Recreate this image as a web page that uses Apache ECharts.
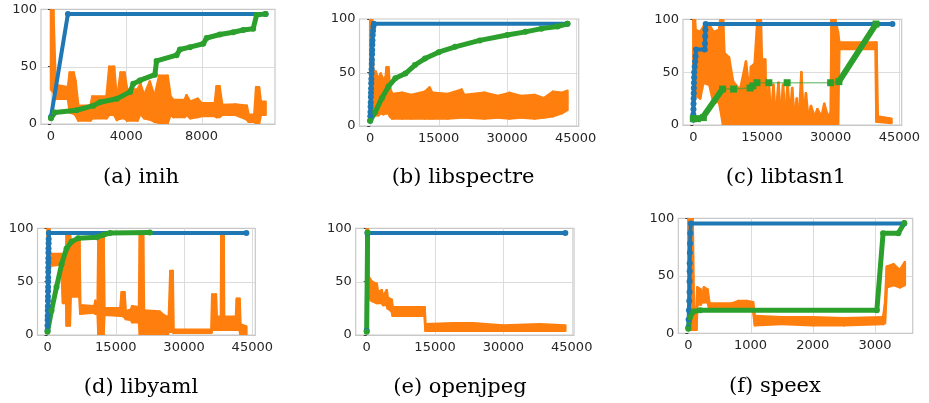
<!DOCTYPE html>
<html>
<head>
<meta charset="utf-8">
<script src="https://cdn.jsdelivr.net/npm/echarts@6/dist/echarts.min.js"></script>
<style>
  body { margin: 0; background: #fff; }
  #chart { width: 929px; height: 403px; }
</style>
</head>
<body>
<div id="chart"></div>
<script>
// ---- data (x = executions, y = percent) ----
// orange rows are [x, low, high] of the noisy band

const inihTicks = [0, 4000, 8000];
const inihBlue = [[0, 6], [900, 96], [11400, 96]];
const inihGreen = [[0, 5], [200, 10], [1360, 12], [2250, 16], [2600, 19], [3500, 22], [4200, 28], [4370, 35],
  [4720, 38], [5520, 43], [5610, 55], [6670, 60], [6850, 65], [7380, 67], [8090, 70], [8270, 75],
  [8970, 78], [9680, 80], [10210, 82], [10740, 83], [10920, 95], [11400, 96]];
const inihOrange = [[0, 30, 100], [120, 28, 100], [250, 22, 34], [900, 22, 32], [1000, 10, 45], [1200, 9, 45],
  [1300, 8, 38], [1450, 3, 16], [2100, 3, 16], [2200, 5, 24], [2950, 5, 24], [3100, 8, 50], [3350, 8, 50],
  [3500, 3.5, 21], [3700, 5, 45], [3900, 5, 45], [4050, 3, 30], [4600, 3, 30], [4750, 9, 35], [4950, 5, 25],
  [5250, 4, 37], [5500, 2, 24], [5750, 1, 42], [6200, 1, 42], [6350, 8, 24], [6500, 6, 21], [7100, 6, 21],
  [7200, 8, 25], [7400, 5, 19.5], [7800, 6, 22], [8000, 7, 18], [8700, 7, 18], [8800, 6, 33], [8950, 6, 33],
  [9100, 8, 16.5], [9800, 8, 17], [10400, 4, 16], [10500, 2, 8], [10800, 2, 8], [10900, 0.5, 32],
  [11050, 0.5, 32], [11150, 8, 19.5], [11400, 8, 19.5]];

const spectreTicks = [0, 15000, 30000, 45000];
const spectreBlue = [[0, 5], [30, 9], [60, 13], [90, 18], [120, 22], [150, 27], [180, 31], [200, 35], [230, 40],
  [260, 44], [290, 49], [320, 53], [350, 58], [380, 62], [410, 67], [440, 71], [470, 76], [500, 80],
  [560, 85], [620, 89], [700, 93], [800, 95.5], [43200, 95.5]];
const spectreGreen = [[0, 5], [1100, 13], [2550, 26], [4000, 37], [5500, 44.6], [7700, 49], [9800, 57],
  [12000, 63], [15000, 69], [18600, 74], [24000, 80], [30000, 85], [34000, 88], [37500, 91], [41000, 93],
  [43200, 95.5]];
const spectreOrange = [[0, 5, 100], [400, 8, 100], [700, 10, 47], [1200, 10, 51], [1800, 10, 44], [2300, 12, 49],
  [2900, 11, 43], [3400, 12, 46], [3600, 12, 55], [4000, 12, 55], [4300, 9, 36], [4800, 7, 30], [7000, 7, 31],
  [9000, 7, 29], [12000, 7, 32], [13000, 7, 36], [13600, 7, 31], [17000, 7, 30], [20000, 8, 34],
  [20600, 8, 29], [25000, 7, 31], [28000, 8, 28], [30500, 7, 31], [33000, 8, 28], [36000, 7, 29],
  [38000, 8, 26], [40000, 9, 32], [42000, 12, 31], [43200, 15, 33]];

const tasnTicks = [0, 15000, 30000, 45000];
const tasnBlue = [[0, 5], [0, 10], [30, 15], [50, 20], [80, 25], [100, 30], [120, 35], [150, 40], [180, 45],
  [200, 50], [300, 55], [400, 60], [500, 65], [600, 71.5], [2500, 71.5], [2550, 77], [2600, 84],
  [2650, 90], [2700, 95.5], [43500, 95.5]];
const tasnGreenDense = [[2200, 8], [6400, 34], null, [31800, 41], [39900, 95.5]];
const tasnGreenSparse = [[0, 6], [900, 6], [2200, 7], [6400, 34], [8800, 34], [12400, 35], [13000, 37],
  [13900, 40], [16500, 40], [20500, 40], [30000, 40], [31800, 41], [39900, 95.5]];
const tasnOrange = [[0, 55, 100], [350, 55, 100], [500, 28, 90], [1500, 25, 88], [2200, 40, 93], [3500, 38, 95],
  [4400, 21, 88], [5600, 22, 90], [5900, 15, 100], [6500, 0, 100], [6800, 0, 68], [7800, 0, 64],
  [8700, 0, 41], [10200, 0, 33], [11500, 0, 60], [12300, 0, 30], [12600, 0, 55], [13400, 0, 58],
  [14000, 0, 100], [14700, 0, 100], [15000, 0, 62], [15700, 0, 62], [16000, 0, 8], [16500, 0, 40],
  [17000, 0, 8], [17500, 0, 38], [18000, 0, 8], [18600, 0, 40], [19100, 0, 8], [19600, 0, 38],
  [20100, 0, 8], [20600, 0, 40], [21100, 0, 8], [21600, 0, 35], [22100, 0, 8], [22600, 0, 25],
  [23100, 0, 8], [23600, 0, 50], [24100, 0, 8], [24600, 0, 30], [25100, 0, 8], [25700, 0, 18],
  [26500, 0, 8], [27100, 0, 15], [28000, 0, 8], [28600, 0, 20], [29400, 0, 8], [30000, 0, 12],
  [30200, 0, 100], [31000, 0, 100], [31600, 0, 88], [31900, 72, 78], [39800, 72, 78], [40000, 3, 78],
  [40300, 3, 8], [43300, 2, 6]];

const yamlTicks = [0, 15000, 30000, 45000];
const yamlBlue = [[0, 4], [0, 9], [20, 14], [40, 18], [60, 23], [80, 27], [100, 32], [110, 36], [120, 41],
  [130, 45], [140, 50], [150, 54], [160, 59], [170, 63], [180, 68], [190, 72], [200, 77], [220, 81],
  [240, 86], [260, 90], [300, 95.5], [43700, 95.5]];
const yamlGreen = [[0, 3], [880, 23], [1980, 45], [3080, 66], [4180, 81], [5280, 87.5], [6730, 90.6],
  [10800, 91.5], [12200, 93.7], [13700, 95.5], [22500, 96]];
const yamlOrange = [[0, 60, 100], [400, 62, 100], [550, 65, 76], [3000, 66, 76], [3400, 30, 76], [4100, 30, 60],
  [4200, 9, 95], [4900, 9, 95], [5100, 36, 89], [7000, 36, 89], [7200, 20, 28], [10300, 21, 27],
  [10500, 20, 32], [11000, 20, 27], [11200, 0, 96], [12300, 0, 96], [12500, 19, 25], [16000, 18, 25],
  [16300, 18, 40], [16900, 17, 40], [17200, 15, 22], [18400, 14, 24], [18600, 12, 27], [20100, 12, 26],
  [20300, 0, 95], [21000, 0, 95], [21200, 0, 23], [24600, 0, 22], [25700, 0, 18], [26400, 0, 17],
  [26600, 3, 10], [27000, 3, 60], [27500, 3, 60], [27700, 2, 5], [36000, 2, 5], [36200, 5, 38],
  [37000, 5, 38], [37200, 5, 17], [38100, 5, 17], [38200, 5, 96], [38700, 5, 96], [38800, 5, 17],
  [41400, 5, 17], [41600, 5, 34], [42200, 5, 34], [42400, 0, 10], [43700, 0, 8]];

const jpegTicks = [0, 15000, 30000, 45000];
const jpegBlue = [[0, 4], [150, 95.5], [43600, 95.5]];
const jpegGreen = [[0, 3], [200, 96]];
const jpegOrange = [[0, 30, 100], [250, 35, 100], [400, 35, 55], [1100, 32, 50], [2200, 30, 48], [2500, 30, 40],
  [3300, 30, 42], [3600, 28, 36], [4400, 28, 42], [4600, 25, 35], [5500, 22, 33], [5700, 18, 26],
  [12700, 18, 26], [12900, 4, 10], [19000, 4, 11], [23400, 4, 11], [30000, 4, 9], [38000, 4, 10],
  [43600, 4, 9]];

const speexTicks = [0, 1000, 2000, 3000];
const speexBlue = [[0, 5], [5, 12], [10, 20], [15, 28], [20, 36], [20, 45], [22, 54], [22, 61], [25, 70],
  [28, 78], [32, 87], [40, 95.5], [3470, 95.5]];
const speexGreen = [[0, 4], [27, 14], [80, 19], [190, 20], [3030, 20], [3130, 87], [3375, 87], [3470, 96]];
const speexOrange = [[0, 3, 100], [70, 3, 100], [90, 3, 22], [130, 3, 22], [145, 25, 40], [200, 25, 38],
  [230, 28, 32], [250, 27, 40], [310, 27, 38], [340, 20, 26], [700, 21, 26], [800, 22, 28], [940, 22, 28],
  [1040, 20, 27], [1070, 7, 15], [1500, 8, 14], [2000, 7, 14], [2500, 7, 13], [3130, 8, 14],
  [3160, 9, 25], [3190, 40, 58], [3300, 42, 60], [3400, 40, 55], [3480, 42, 62]];

// ---- layout ----
const BLUE = '#1f77b4', ORANGE = '#ff7f0e', GREEN = '#2ca02c';
const GRIDC = '#dcdcdc';

const panels = [
  { caption: '(a) inih', cx: 141, cy: 178, grid: { left: 41, top: 9.3, width: 234, height: 114.7 },
    xMin: -530, xMax: 11900, ticks: inihTicks, blue: inihBlue, green: inihGreen, orange: inihOrange },
  { caption: '(b) libspectre', cx: 463, cy: 178, grid: { left: 359.5, top: 19, width: 219.2, height: 107 },
    xMin: -2340, xMax: 45660, ticks: spectreTicks, blue: spectreBlue, green: spectreGreen, orange: spectreOrange },
  { caption: '(c) libtasn1', cx: 786, cy: 178, grid: { left: 683, top: 19.3, width: 218.7, height: 105.7 },
    xMin: -2250, xMax: 45520, ticks: tasnTicks, blue: tasnBlue, green: tasnGreenDense, greenSparse: tasnGreenSparse, orange: tasnOrange },
  { caption: '(d) libyaml', cx: 141, cy: 387.5, grid: { left: 37.5, top: 228.3, width: 217.8, height: 106.7 },
    xMin: -2200, xMax: 45660, ticks: yamlTicks, blue: yamlBlue, green: yamlGreen, orange: yamlOrange },
  { caption: '(e) openjpeg', cx: 460, cy: 387.5, grid: { left: 355.7, top: 228.3, width: 218.3, height: 106.7 },
    xMin: -2415, xMax: 45500, ticks: jpegTicks, blue: jpegBlue, green: jpegGreen, orange: jpegOrange },
  { caption: '(f) speex', cx: 775, cy: 387, grid: { left: 678.3, top: 218.3, width: 234.4, height: 115 },
    xMin: -161, xMax: 3606, ticks: speexTicks, blue: speexBlue, green: speexGreen, orange: speexOrange }
];

const labelFont = { fontFamily: 'DejaVu Sans', fontSize: 13, color: '#262626' };

const grid = [], xAxis = [], yAxis = [], series = [], graphic = [];

panels.forEach((p, i) => {
  grid.push(Object.assign({ show: true, backgroundColor: 'transparent', borderColor: '#c8c8c8', borderWidth: 1.2 }, p.grid));
  xAxis.push({
    gridIndex: i, type: 'value', min: p.xMin, max: p.xMax,
    axisLine: { show: true, lineStyle: { color: '#c8c8c8', width: 1.2 } },
    axisTick: { show: false, customValues: p.ticks },
    axisLabel: Object.assign({ customValues: p.ticks, margin: 6, formatter: v => String(v) }, labelFont),
    splitLine: { show: false }
  });
  yAxis.push({
    gridIndex: i, type: 'value', min: 0, max: 100, interval: 50,
    axisLine: { show: true, lineStyle: { color: '#c8c8c8', width: 1.2 } },
    axisTick: { show: true, length: 3, lineStyle: { color: '#444', width: 1 } },
    axisLabel: Object.assign({ margin: 4 }, labelFont),
    splitLine: { show: false }
  });

  // grid lines: vertical at the labelled x ticks, horizontal at y = 50 (thin filled rects, under the data)
  const gridRows = p.ticks.map(v => [v, 0, 100, 0]).concat([[p.xMin, 50, p.xMax, 1]]);
  series.push({
    type: 'custom', xAxisIndex: i, yAxisIndex: i, silent: true, clip: true,
    data: gridRows, encode: { x: 0, y: 1 },
    renderItem: (params, api) => {
      const r = gridRows[params.dataIndex];
      if (r[3] === 0) {
        const a = api.coord([r[0], r[1]]), b = api.coord([r[0], r[2]]);
        return { type: 'rect', shape: { x: Math.round(a[0]), y: b[1], width: 1, height: a[1] - b[1] }, style: { fill: GRIDC } };
      }
      const a = api.coord([r[0], r[1]]), b = api.coord([r[2], r[1]]);
      return { type: 'rect', shape: { x: a[0], y: Math.round(a[1]), width: b[0] - a[0], height: 1 }, style: { fill: GRIDC } };
    }
  });

  // orange: noisy band between low and high, one quad per pair of rows
  const rows = p.orange;
  series.push({
    type: 'custom', xAxisIndex: i, yAxisIndex: i, silent: true, clip: true,
    data: rows, encode: { x: 0, y: [1, 2] },
    renderItem: (params, api) => {
      const k = params.dataIndex;
      if (k >= rows.length - 1) return null;
      const a = rows[k], b = rows[k + 1];
      return {
        type: 'polygon',
        shape: { points: [api.coord([a[0], a[1]]), api.coord([b[0], b[1]]), api.coord([b[0], b[2]]), api.coord([a[0], a[2]])] },
        style: { fill: ORANGE, stroke: ORANGE, lineWidth: 2.5, lineJoin: 'round' }
      };
    }
  });

  series.push({
    type: 'line', xAxisIndex: i, yAxisIndex: i, data: p.blue, silent: true,
    symbol: 'circle', symbolSize: 6, showSymbol: true, showAllSymbol: true,
    itemStyle: { color: BLUE }, lineStyle: { color: BLUE, width: 4, cap: 'round', join: 'round' }
  });

  if (p.greenSparse) {
    series.push({
      type: 'line', xAxisIndex: i, yAxisIndex: i, data: p.greenSparse, silent: true,
      symbol: 'rect', symbolSize: 7, showSymbol: true, showAllSymbol: true,
      itemStyle: { color: GREEN }, lineStyle: { color: GREEN, width: 1.5, opacity: 0.55 }
    });
  }
  series.push({
    type: 'line', xAxisIndex: i, yAxisIndex: i, data: p.green, silent: true, connectNulls: false,
    symbol: p.greenSparse ? 'none' : 'circle', symbolSize: 6, showAllSymbol: true,
    itemStyle: { color: GREEN }, lineStyle: { color: GREEN, width: p.greenSparse ? 6 : 5, cap: 'round', join: 'round' }
  });

  graphic.push({
    type: 'text', x: p.cx, y: p.cy, silent: true,
    style: { text: p.caption, align: 'center', verticalAlign: 'middle', font: '21px "DejaVu Serif"', fill: '#000' }
  });
});

const chart = echarts.init(document.getElementById('chart'));
chart.setOption({
  animation: false,
  backgroundColor: '#fff',
  grid: grid,
  xAxis: xAxis,
  yAxis: yAxis,
  series: series,
  graphic: graphic
});
</script>
</body>
</html>
